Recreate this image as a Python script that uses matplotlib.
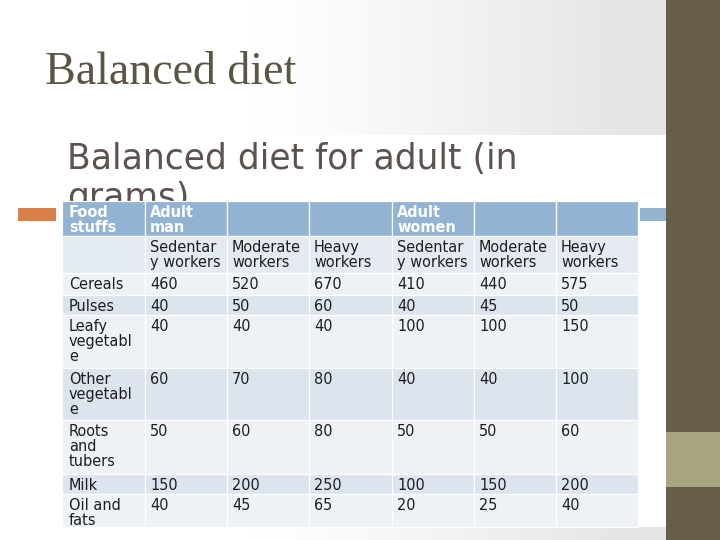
import numpy as np
import matplotlib
matplotlib.use("Agg")
import matplotlib.pyplot as plt
from matplotlib.patches import Rectangle

# ---- data ----
slide_title = "Balanced diet"
table_title = "Balanced diet for adult (in\ngrams)"
header_row = ["Food\nstuffs", "Adult\nman", "", "", "Adult\nwomen", "", ""]
sub_header = ["", "Sedentar\ny workers", "Moderate\nworkers", "Heavy\nworkers",
              "Sedentar\ny workers", "Moderate\nworkers", "Heavy\nworkers"]
foods = ["Cereals", "Pulses", "Leafy\nvegetabl\ne", "Other\nvegetabl\ne",
         "Roots\nand\ntubers", "Milk", "Oil and\nfats"]
man_sedentary = [460, 40, 40, 60, 50, 150, 40]
man_moderate = [520, 50, 40, 70, 60, 200, 45]
man_heavy = [670, 60, 40, 80, 80, 250, 65]
women_sedentary = [410, 40, 100, 40, 50, 100, 20]
women_moderate = [440, 45, 100, 40, 50, 150, 25]
women_heavy = [575, 50, 150, 100, 60, 200, 40]

# ---- layout ----
W, H = 720, 540
fig = plt.figure(figsize=(W / 72, H / 72), dpi=72)
ax = fig.add_axes([0, 0, 1, 1])
ax.set_xlim(0, W)
ax.set_ylim(H, 0)
ax.axis("off")

# background gradient (white -> light gray towards right)
xs = np.linspace(0, 1, 400)
g = np.clip((xs - 0.38) / 0.55, 0, 1) ** 1.2
shade = 1 - 0.10 * g
bg = np.tile(shade, (50, 1))
ax.imshow(np.dstack([bg, bg, bg]), extent=[0, 666, H, 0], aspect="auto", zorder=0)

# embedded picture area (white)
ax.add_patch(Rectangle((0, 135), 666, 392, facecolor="white", edgecolor="none", zorder=1))

# right stripe
ax.add_patch(Rectangle((666, 0), 54, H, facecolor="#665e48", edgecolor="none", zorder=1))
ax.add_patch(Rectangle((666, 432), 54, 55, facecolor="#a8a67e", edgecolor="none", zorder=2))

# slide title
ax.text(45, 84, slide_title, fontsize=46, family="Liberation Serif",
        color="#5b5545", ha="left", va="baseline", zorder=3)

# table title
t1, t2 = table_title.split("\n")
ax.text(67, 169, t1, fontsize=34.5, family="DejaVu Sans",
        color="#5c5250", ha="left", va="baseline", zorder=2)
ax.text(67, 208, t2, fontsize=34.5, family="DejaVu Sans",
        color="#5c5250", ha="left", va="baseline", zorder=2)

# decorative bars
ax.add_patch(Rectangle((18, 208), 38, 13, facecolor="#d9804a", edgecolor="none", zorder=2))
ax.add_patch(Rectangle((640, 208), 26, 13, facecolor="#92b4d0", edgecolor="none", zorder=2))

# table
col_edges = [62, 145, 227, 309, 392, 474, 556, 638]
row_edges = [201, 236, 273, 295, 315, 368, 420, 474, 494, 527]
light, dark = "#eef1f6", "#dce4ee"
row_colors = ["#93b3d3", "#e4eaf2", light, dark, light, dark, light, dark, light]

columns = [man_sedentary, man_moderate, man_heavy,
           women_sedentary, women_moderate, women_heavy]
rows = [header_row, sub_header]
for i, f in enumerate(foods):
    rows.append([f] + [str(c[i]) for c in columns])

for r, row in enumerate(rows):
    top, bot = row_edges[r], row_edges[r + 1]
    for c, txt in enumerate(row):
        left, right = col_edges[c], col_edges[c + 1]
        ax.add_patch(Rectangle((left, top), right - left, bot - top,
                               facecolor=row_colors[r], edgecolor="white",
                               linewidth=1.2, zorder=3))
        if txt:
            header = r == 0
            ax.text(left + (7 if c == 0 else 5), top + 4, txt,
                    fontsize=14.5, family="DejaVu Sans",
                    fontweight="bold" if header else "normal",
                    color="white" if header else "#1e1e1e",
                    ha="left", va="top", linespacing=1.02, zorder=4)

fig.savefig("out.png", dpi=72)
